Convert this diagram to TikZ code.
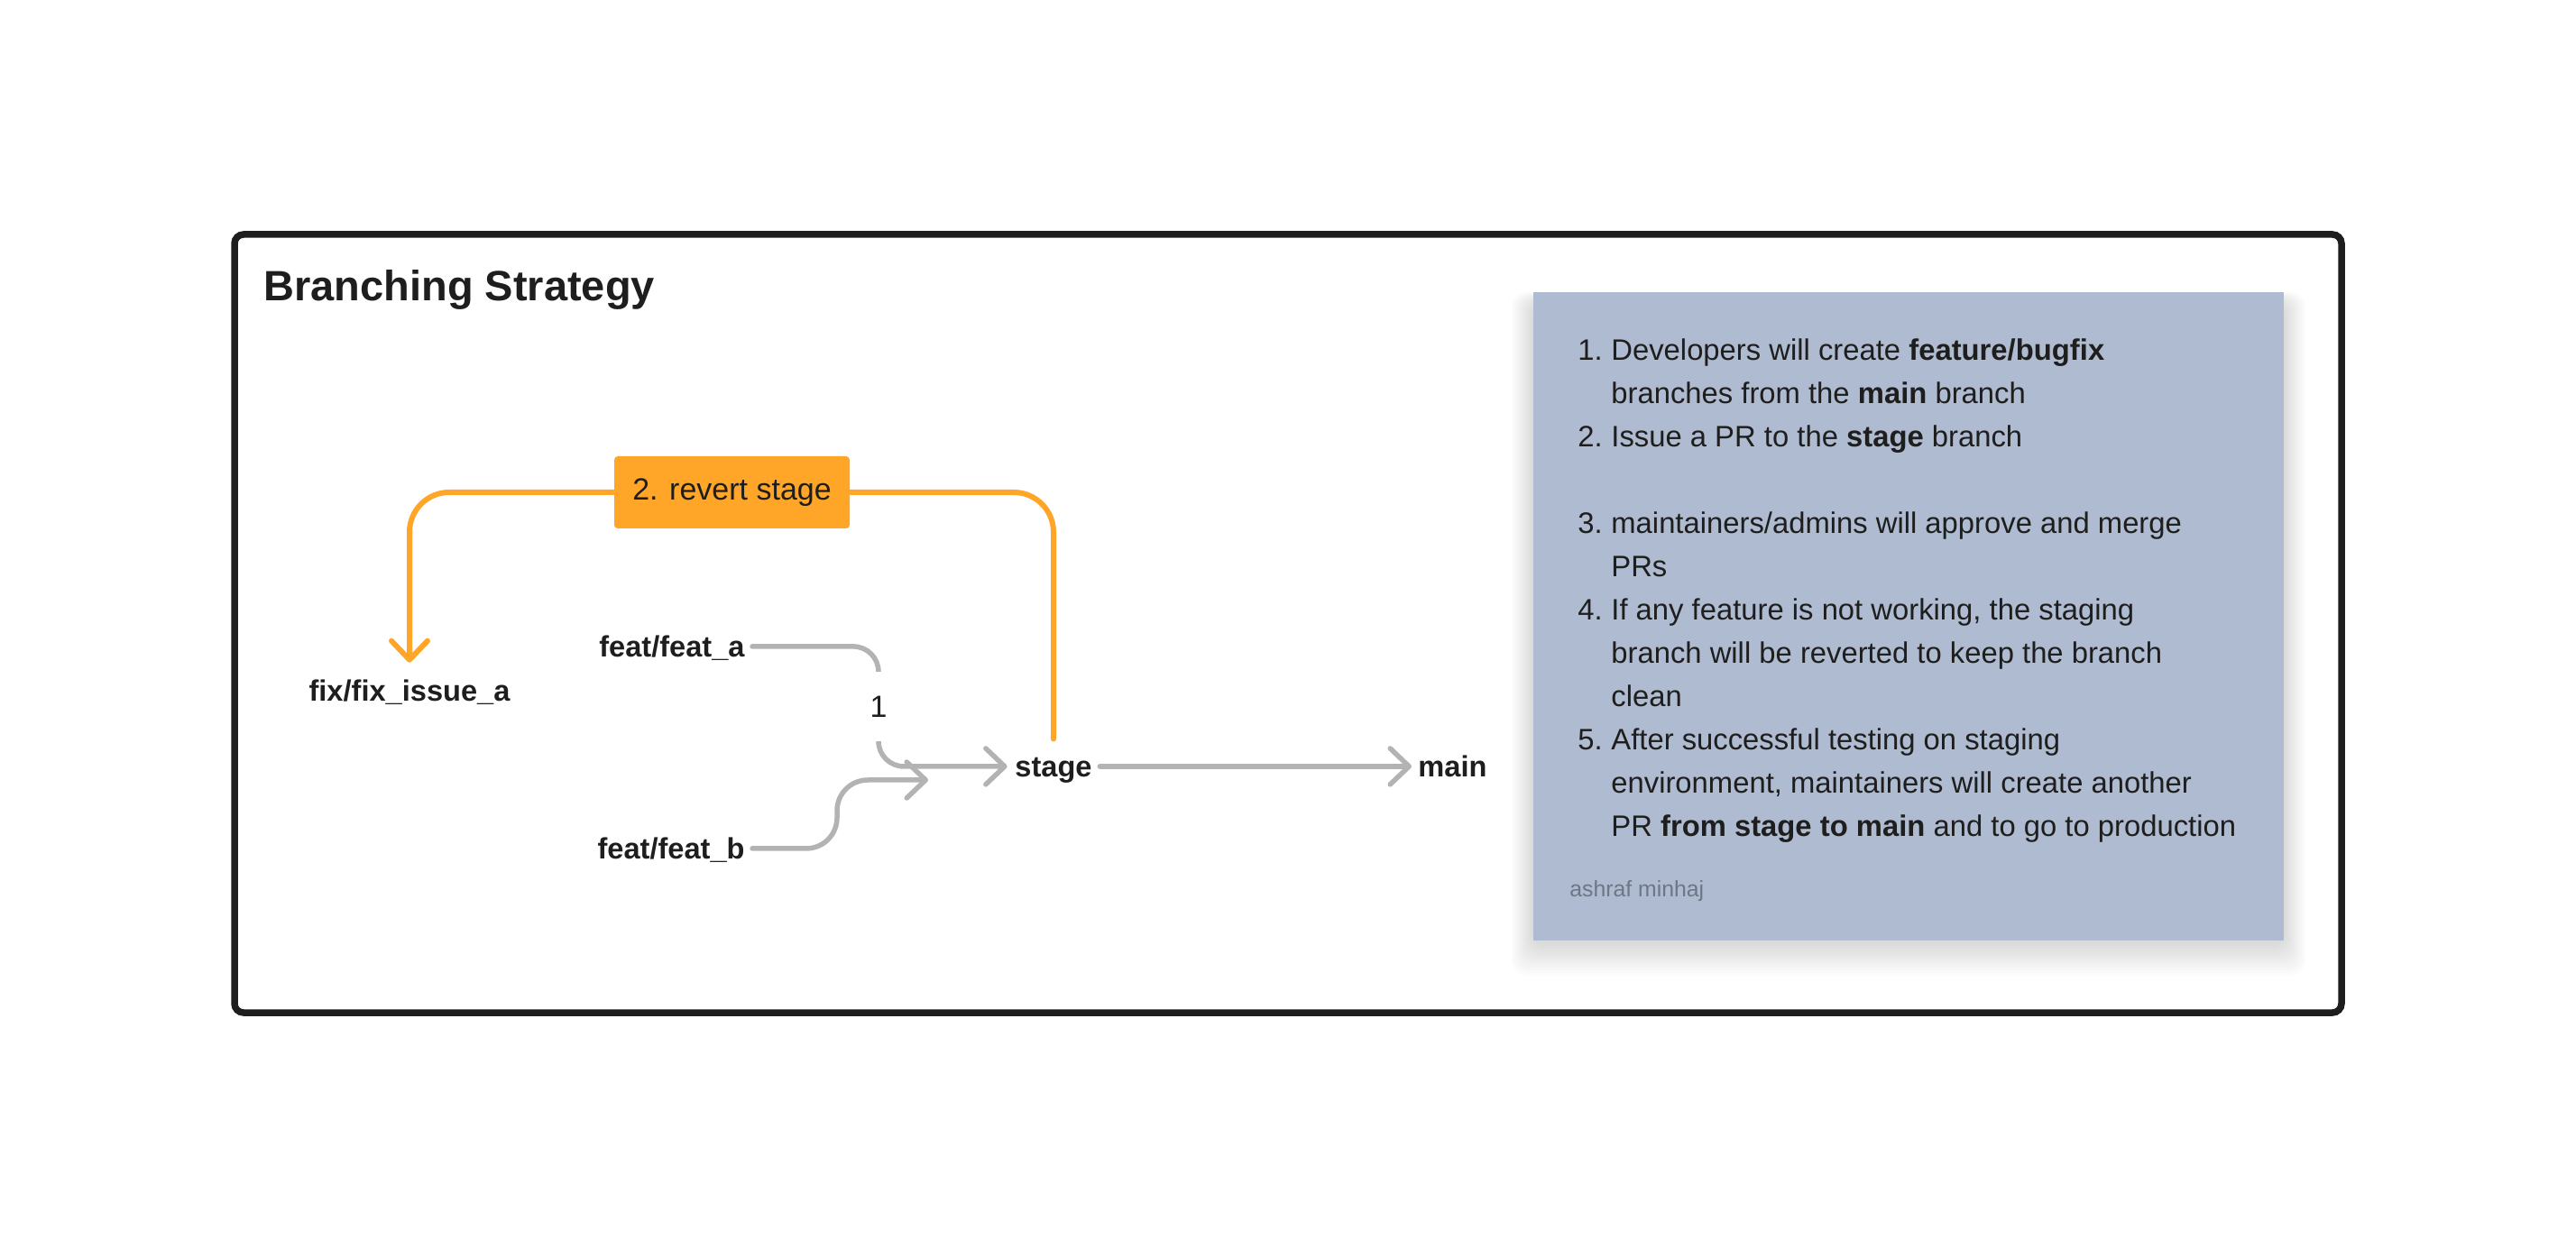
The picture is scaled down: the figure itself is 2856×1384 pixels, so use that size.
\documentclass[tikz,border=0pt]{standalone}
\usepackage{fontspec}
\setmainfont{Liberation Sans}
\usetikzlibrary{arrows.meta}
\definecolor{ink}{HTML}{1E1E1E}
\definecolor{orng}{HTML}{FFA629}
\definecolor{lgray}{HTML}{B3B3B3}
\definecolor{notec}{HTML}{AFBBD0}
\definecolor{sig}{HTML}{6F7685}
\tikzset{
  lbl/.style={font=\fontsize{16.3}{20}\selectfont\bfseries, inner sep=0pt, text height=13.86pt, text depth=1.79pt, text=ink},
  notetxt/.style={font=\fontsize{16.4}{24}\selectfont, inner sep=0pt, text=ink, anchor=base west},
  grayline/.style={draw=lgray, line width=2.75pt, line cap=round, line join=round},
  orangeline/.style={draw=orng, line width=3pt, line cap=round, line join=round},
  vtip/.style={-{Straight Barb[length=10.5pt,width=20pt,round]}},
}
\begin{document}
\begin{tikzpicture}[x=0.5pt,y=-0.5pt]
\useasboundingbox (0,0) rectangle (2856,1384);
% frame
\draw[ink, line width=3.75pt, rounded corners=5pt] (260,260) rectangle (2596,1123);
\node[font=\fontsize{23.5}{28}\selectfont\bfseries, text=ink, inner sep=0pt, anchor=base west] (title) at (292,334) {Branching Strategy};

% branch labels
\node[lbl, anchor=base] (fix) at (454,778) {fix/fix\_issue\_a};
\node[lbl, anchor=base east] (fa) at (826,729) {feat/feat\_a};
\node[lbl, anchor=base east] (fb) at (826,953) {feat/feat\_b};
\node[lbl, anchor=base] (stage) at (1168,862) {stage};
\node[lbl, anchor=base west] (main) at (1572,862) {main};

\coordinate (vx1) at (974,0);
\coordinate (vx2) at (928,0);
\coordinate (mb) at (1029,865);
\coordinate (c1) at (974,784);

% feat_a -> stage
\draw[grayline, vtip, rounded corners=14pt, shorten <=4pt, shorten >=4.2pt]
  (fa.east) -- (fa.east -| vx1) -- (vx1 |- stage.west) -- (stage.west);
\node[fill=white, inner sep=0pt, minimum width=14pt, minimum height=38.5pt, font=\fontsize{17}{20}\selectfont, text=ink] (one) at (c1) {1};

% feat_b -> merge
\draw[grayline, vtip, rounded corners=17pt, shorten <=4pt]
  (fb.east) -- (fb.east -| vx2) -- (vx2 |- mb) -- (mb);

% stage -> main
\draw[grayline, vtip, shorten <=4.2pt, shorten >=3.5pt] (stage.east) -- (main.west);

% revert
\coordinate (rc) at (811.5,546);
\draw[orangeline, vtip, rounded corners=22pt, shorten <=7.2pt, shorten >=7.6pt]
  (stage.north) -- (stage.north |- rc) -- (fix.north |- rc) -- (fix.north);
\node[fill=orng, rounded corners=2pt, minimum width=130.5pt, minimum height=40pt, inner sep=0pt, font=\fontsize{17}{20}\selectfont, text=ink] (rev) at (rc) {2. revert stage};

% note shadow
\foreach \i in {1,...,12}
  \fill[black, opacity=0.011, rounded corners=8pt] (1700-2*\i,336-\i) rectangle (2532+2*\i,1046+3*\i);
\node[fill=notec, anchor=north west, minimum width=416pt, minimum height=359.5pt, inner sep=0pt] (note) at (1700,324) {};

\node[notetxt] (n1) at (1749,400) {1.};
\node[notetxt] (t1a) at (1786,400) {Developers will create \textbf{feature/bugfix}};
\node[notetxt] (t1b) at (1786,448) {branches from the \textbf{main} branch};
\node[notetxt] (n2) at (1749,496) {2.};
\node[notetxt] (t2a) at (1786,496) {Issue a PR to the \textbf{stage} branch};
\node[notetxt] (n3) at (1749,592) {3.};
\node[notetxt] (t3a) at (1786,592) {maintainers/admins will approve and merge};
\node[notetxt] (t3b) at (1786,640) {PRs};
\node[notetxt] (n4) at (1749,688) {4.};
\node[notetxt] (t4a) at (1786,688) {If any feature is not working, the staging};
\node[notetxt] (t4b) at (1786,736) {branch will be reverted to keep the branch};
\node[notetxt] (t4c) at (1786,784) {clean};
\node[notetxt] (n5) at (1749,832) {5.};
\node[notetxt] (t5a) at (1786,832) {After successful testing on staging};
\node[notetxt] (t5b) at (1786,880) {environment, maintainers will create another};
\node[notetxt] (t5c) at (1786,928) {PR \textbf{from stage to main} and to go to production};
\node[font=\fontsize{12.4}{15}\selectfont, text=sig, inner sep=0pt, anchor=base west] (sign) at (1740,995) {ashraf minhaj};
\end{tikzpicture}
\end{document}
